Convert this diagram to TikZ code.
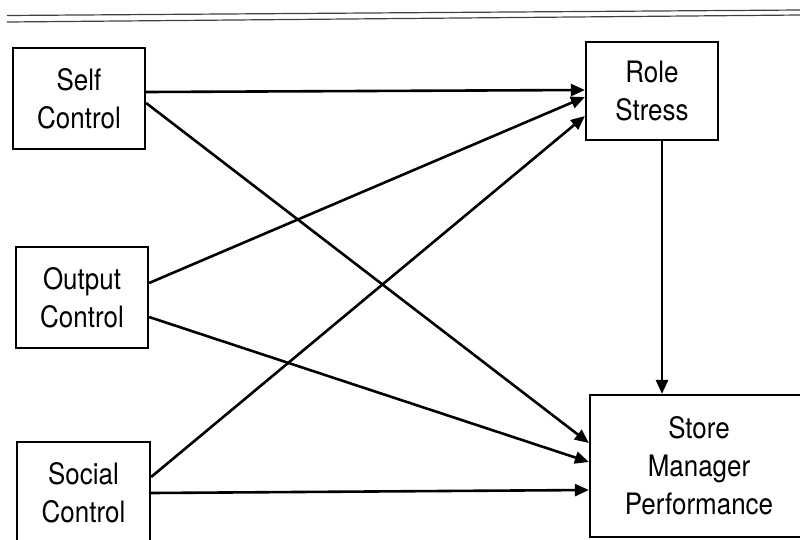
\documentclass[tikz,border=0pt]{standalone}
\usepackage{fontspec}
\setmainfont{TeX Gyre Heros}[FakeStretch=0.88]
\usetikzlibrary{arrows.meta}

\tikzset{
  box/.style={draw, line width=2.2pt, align=center, inner sep=0pt,
              font=\fontsize{29.5}{38}\selectfont},
  link/.style={line width=2.6pt, -{Triangle[length=14pt,width=12pt]}},
  rule/.style={line width=1.2pt, black!75}
}

\begin{document}
\begin{tikzpicture}[x=1pt, y=-1pt]
  \useasboundingbox (0,0) rectangle (800,539);
  \clip (0,0) rectangle (800,539);

  % double rule across the top
  \draw[rule] (7,15.5) -- (800,10);
  \draw[rule] (7,22) -- (800,15);

  % control variables on the left
  \node[box, minimum width=132pt, minimum height=101pt] (self)   at (79,98.5)  {Self\\Control};
  \node[box, minimum width=132pt, minimum height=101pt] (output) at (82,297.5) {Output\\Control};
  \node[box, minimum width=133pt, minimum height=101pt] (social) at (83.5,492.5) {Social\\Control};

  % mediator and outcome
  \node[box, minimum width=132pt, minimum height=98pt]  (role)  at (652,91)  {Role\\Stress};
  \node[box, minimum width=218pt, minimum height=142pt] (store) at (699,466) {Store\\Manager\\Performance};

  % paths into role stress
  \draw[link] ([yshift=6.5pt]self.east)    -- ([yshift=1pt]role.west);
  \draw[link] ([yshift=14.5pt]output.east) -- ([yshift=-6pt]role.west);
  \draw[link] ([yshift=15.5pt]social.east) -- ([yshift=-25pt]role.west);

  % paths into store manager performance
  \draw[link] ([yshift=-4.5pt]self.east)    -- ([yshift=23pt]store.west);
  \draw[link] ([yshift=-19.5pt]output.east) -- ([yshift=4pt]store.west);
  \draw[link] ([yshift=-0.5pt]social.east)  -- ([yshift=-24pt]store.west);

  % role stress to performance
  \draw[link] ([xshift=10pt]role.south) -- ([xshift=10pt]role.south |- store.north);
\end{tikzpicture}
\end{document}
